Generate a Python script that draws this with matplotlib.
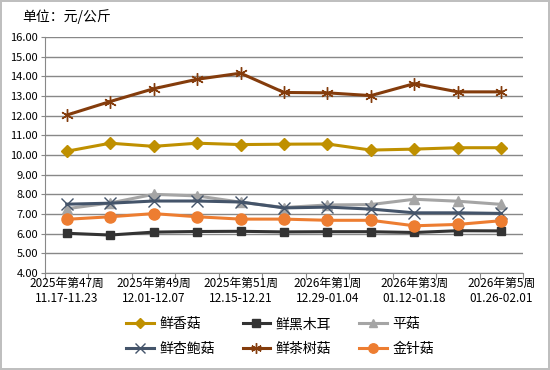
import matplotlib.pyplot as plt
import numpy as np

plt.rcParams['font.family'] = ['Noto Sans CJK SC', 'DejaVu Sans']

weeks = ['2025年第47周', '2025年第48周', '2025年第49周', '2025年第50周', '2025年第51周',
         '2025年第52周', '2026年第1周', '2026年第2周', '2026年第3周', '2026年第4周', '2026年第5周']
dates = ['11.17-11.23', '11.24-11.30', '12.01-12.07', '12.08-12.14', '12.15-12.21',
         '12.22-12.28', '12.29-01.04', '01.05-01.11', '01.12-01.18', '01.19-01.25', '01.26-02.01']

xianggu = [10.19, 10.60, 10.44, 10.60, 10.53, 10.55, 10.56, 10.25, 10.30, 10.37, 10.37]
heimuer = [6.02, 5.93, 6.08, 6.11, 6.12, 6.09, 6.10, 6.10, 6.06, 6.15, 6.14]
pinggu = [7.27, 7.56, 8.00, 7.92, 7.60, 7.33, 7.46, 7.48, 7.75, 7.65, 7.49]
xingbaogu = [7.50, 7.55, 7.66, 7.66, 7.61, 7.31, 7.35, 7.25, 7.06, 7.06, 7.03]
chashugu = [12.03, 12.72, 13.37, 13.85, 14.16, 13.18, 13.16, 13.02, 13.63, 13.21, 13.21]
jinzhengu = [6.73, 6.86, 7.02, 6.86, 6.74, 6.74, 6.68, 6.68, 6.40, 6.47, 6.66]

x = np.arange(len(weeks))

fig = plt.figure(figsize=(5.5, 3.7), dpi=100)
fig.patch.set_edgecolor('#BFBFBF')
fig.patch.set_linewidth(1.5)
ax = fig.add_axes([45 / 550, 1 - 273 / 370, 478 / 550, 236 / 370])

series = [
    (xianggu, '鲜香菇', '#BF9000', 'D', 6),
    (heimuer, '鲜黑木耳', '#333333', 's', 6),
    (pinggu, '平菇', '#A5A5A5', '^', 7),
    (xingbaogu, '鲜杏鲍菇', '#44546A', 'x', 8),
    (chashugu, '鲜茶树菇', '#843C0C', (6, 2, 0), 9),
    (jinzhengu, '金针菇', '#ED7D31', 'o', 8),
]
handles = []
for vals, name, col, mk, ms in series:
    h, = ax.plot(x, vals, color=col, lw=2.2, marker=mk, ms=ms, mfc=col, mec=col,
                 mew=1, label=name)
    handles.append(h)

ax.set_ylim(4, 16)
ax.set_yticks(np.arange(4, 16.1, 1))
ax.set_yticklabels(['%.2f' % v for v in np.arange(4, 16.1, 1)], fontsize=8)
ax.set_xlim(-0.5, len(weeks) - 0.5)
ax.set_xticks(np.arange(-0.5, len(weeks)), [])
ax.set_xticks(x[::2], [weeks[i] + '\n' + dates[i] for i in x[::2]], minor=True)
ax.tick_params(axis='x', which='major', length=4, color='#888888')
ax.tick_params(axis='x', which='minor', length=0, labelsize=8.5, pad=3)
ax.tick_params(axis='y', length=3, color='#888888', pad=2)
ax.grid(axis='y', color='#888888', lw=1)
ax.set_axisbelow(True)
for s in ['top', 'right']:
    ax.spines[s].set_visible(False)
for s in ['left', 'bottom']:
    ax.spines[s].set_color('#888888')

fig.text(22 / 550, 1 - 17 / 370, '单位：元/公斤', fontsize=10, va='center')

# row-wise legend order
order = [0, 3, 1, 4, 2, 5]
ax.legend([handles[i] for i in order], [series[i][1] for i in order],
          loc='upper center', bbox_to_anchor=(0.5 - 4 / 478, -0.135), ncol=3,
          frameon=False, fontsize=10, handlelength=2.0, columnspacing=2.0,
          labelspacing=0.75, handletextpad=0.4, markerscale=0.85)

fig.savefig('out.png', dpi=100)
